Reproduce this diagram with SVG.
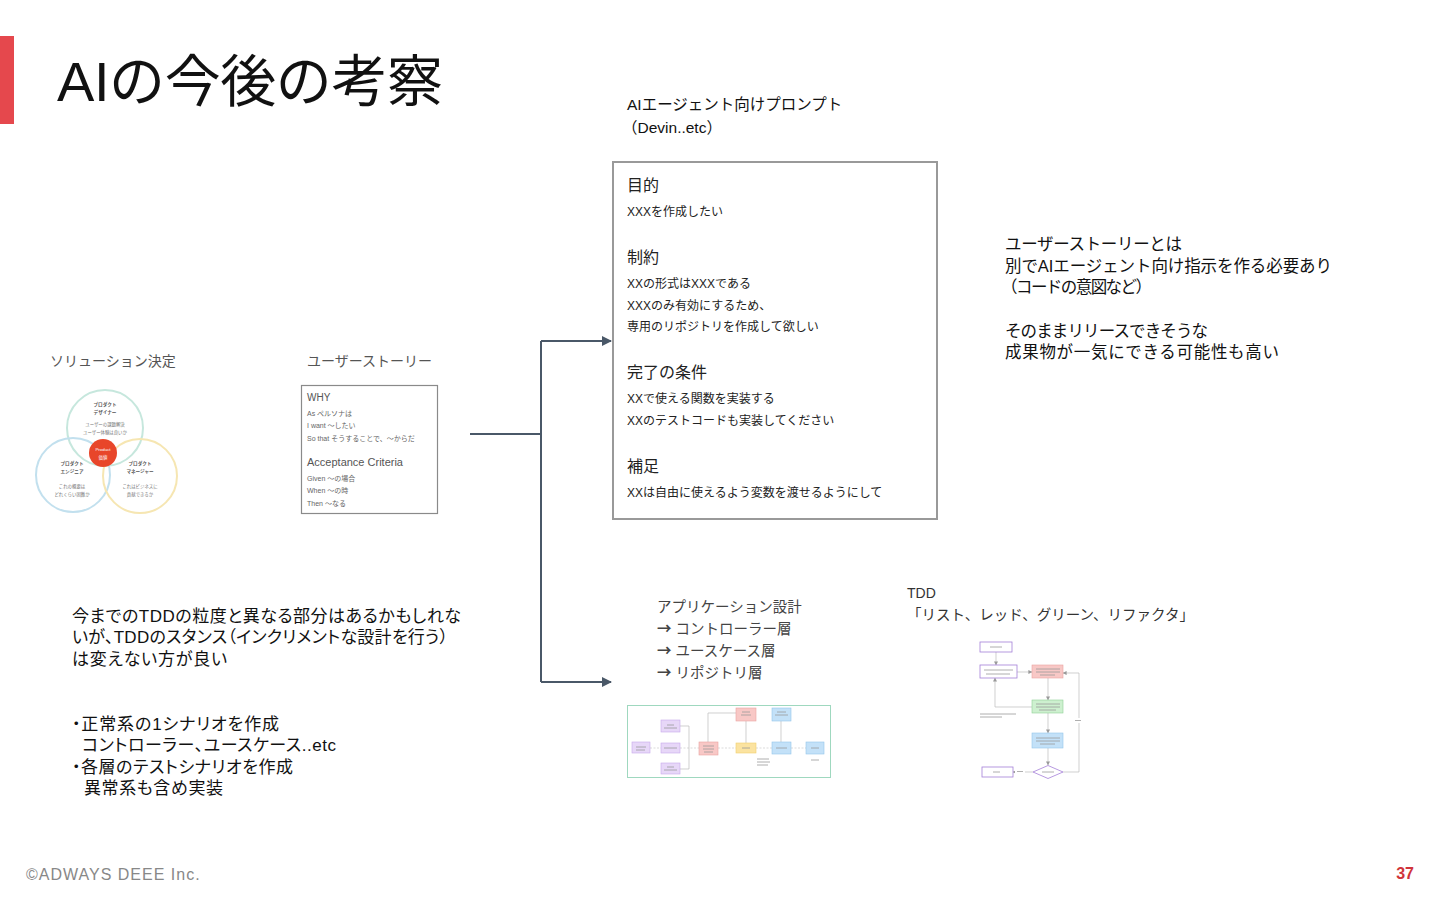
<svg xmlns="http://www.w3.org/2000/svg" width="1440" height="900" viewBox="0 0 1440 900">
<style>
text{font-family:"Liberation Sans","Noto Sans CJK JP",sans-serif;}
.t{fill:#111;}
.g{fill:#555;}
.s12{font-size:12px;fill:#222;}
.h16{font-size:16px;fill:#222;}
.b16{font-size:16.5px;fill:#111;}
.b17{font-size:17px;fill:#111;font-feature-settings:"palt";}
.ad{font-size:14.5px;fill:#444;}
.ar{font-family:"Noto Sans CJK JP",sans-serif;font-weight:bold;}
.conn{fill:none;stroke:#4a5868;stroke-width:2;}
.vn{font-size:4.6px;font-weight:bold;fill:#555;text-anchor:middle;}
.vs{font-size:4.4px;fill:#777;text-anchor:middle;}
.us{font-size:7px;fill:#666;}
.blur{stroke:#9a9a9a;stroke-width:0.8;}
.fl{fill:none;stroke:#bbb;stroke-width:0.7;}
.fd{fill:none;stroke:#ccc;stroke-width:0.7;stroke-dasharray:2 1.5;}
.pu{fill:#e7d7f8;stroke:#c7a9ec;stroke-width:0.6;}
.rd{fill:#f8c8c6;stroke:#e9a3a0;stroke-width:0.6;}
.ye{fill:#fbe3a0;stroke:#f2cf6e;stroke-width:0.6;}
.bl{fill:#c3e1f8;stroke:#95c6ea;stroke-width:0.6;}
.gr{fill:#cdf0cf;stroke:#8fd196;stroke-width:0.6;}
.pw{fill:#fff;stroke:#a47fd8;stroke-width:0.8;}
</style>
<defs>
<marker id="arr" viewBox="0 0 10 10" refX="9" refY="5" markerWidth="5" markerHeight="5" orient="auto" markerUnits="strokeWidth">
<path d="M0,0 L10,5 L0,10 z" fill="#4a5868"/>
</marker>
<marker id="sm" viewBox="0 0 10 10" refX="9" refY="5" markerWidth="4" markerHeight="4" orient="auto" markerUnits="userSpaceOnUse">
<path d="M0,0 L10,5 L0,10 z" fill="#999"/>
</marker>
</defs>
<rect width="1440" height="900" fill="#fff"/>

<g id="title">
<rect x="0" y="36" width="14" height="88" fill="#e5484d"/>
<text x="57" y="101" font-size="56" class="t" textLength="386" lengthAdjust="spacing">AIの今後の考察</text>
</g>

<g id="solution">
<text x="50" y="366" font-size="14" class="g">ソリューション決定</text>
<circle cx="105" cy="428" r="38" fill="none" stroke="#c6e7dd" stroke-width="2"/>
<circle cx="73" cy="475" r="37" fill="none" stroke="#c2e0ee" stroke-width="2"/>
<circle cx="140" cy="476" r="37" fill="none" stroke="#f6e6b2" stroke-width="2"/>
<circle cx="103" cy="453" r="14" fill="#e8462a"/>
<text x="105" y="406" class="vn">プロダクト</text>
<text x="105" y="414" class="vn">デザイナー</text>
<text x="105" y="426" class="vs">ユーザーの課題解決</text>
<text x="105" y="434" class="vs">ユーザー体験は良いか</text>
<text x="103" y="451" class="vs" style="fill:#fff">Product</text>
<text x="103" y="459" class="vs" style="fill:#fff">価値</text>
<text x="72" y="465" class="vn">プロダクト</text>
<text x="72" y="473" class="vn">エンジニア</text>
<text x="72" y="488" class="vs">これの概要は</text>
<text x="72" y="496" class="vs">どれくらい困難か</text>
<text x="140" y="465" class="vn">プロダクト</text>
<text x="140" y="473" class="vn">マネージャー</text>
<text x="140" y="488" class="vs">これはビジネスに</text>
<text x="140" y="496" class="vs">貢献できるか</text>
</g>

<g id="userstory">
<text x="307" y="366" font-size="14" class="g">ユーザーストーリー</text>
<rect x="301.5" y="385.5" width="136" height="128" fill="#fff" stroke="#8a8a8a" stroke-width="1.2"/>
<text x="307" y="401" font-size="10" fill="#555">WHY</text>
<text x="307" y="416" class="us">As ペルソナは</text>
<text x="307" y="428" class="us">I want ～したい</text>
<text x="307" y="441" class="us">So that そうすることで、～からだ</text>
<text x="307" y="466" font-size="11" fill="#555">Acceptance Criteria</text>
<text x="307" y="481" class="us">Given ～の場合</text>
<text x="307" y="493" class="us">When ～の時</text>
<text x="307" y="506" class="us">Then ～なる</text>
</g>

<g id="connectors">
<path class="conn" d="M470,434 H541"/>
<path class="conn" d="M541,341 V682"/>
<path class="conn" d="M541,341 H611" marker-end="url(#arr)"/>
<path class="conn" d="M541,682 H611" marker-end="url(#arr)"/>
</g>

<g id="prompt-title">
<text x="627" y="110" font-size="15.5" class="t">AIエージェント向けプロンプト</text>
<text x="622" y="133" font-size="15.5" class="t">（Devin..etc）</text>
</g>

<g id="prompt">
<rect x="613" y="162" width="324" height="357" fill="#fff" stroke="#999" stroke-width="2"/>
<text x="627" y="191" class="h16">目的</text>
<text x="627" y="216" class="s12">XXXを作成したい</text>
<text x="627" y="263" class="h16">制約</text>
<text x="627" y="288" class="s12">XXの形式はXXXである</text>
<text x="627" y="310" class="s12">XXXのみ有効にするため、</text>
<text x="627" y="331" class="s12">専用のリポジトリを作成して欲しい</text>
<text x="627" y="378" class="h16">完了の条件</text>
<text x="627" y="403" class="s12">XXで使える関数を実装する</text>
<text x="627" y="425" class="s12">XXのテストコードも実装してください</text>
<text x="627" y="472" class="h16">補足</text>
<text x="627" y="497" class="s12">XXは自由に使えるよう変数を渡せるようにして</text>
</g>

<g id="note-right">
<text x="1005" y="250" class="b16" textLength="177" lengthAdjust="spacing">ユーザーストーリーとは</text>
<text x="1005" y="272" class="b16" textLength="327" lengthAdjust="spacing">別でAIエージェント向け指示を作る必要あり</text>
<text x="1001" y="293" class="b16" textLength="151" lengthAdjust="spacing">（コードの意図など）</text>
<text x="1005" y="337" class="b16" textLength="203" lengthAdjust="spacing">そのままリリースできそうな</text>
<text x="1005" y="358" class="b16" textLength="274" lengthAdjust="spacing">成果物が一気にできる可能性も高い</text>
</g>

<g id="note-left">
<text x="72" y="622" class="b17" textLength="389" lengthAdjust="spacing">今までのTDDの粒度と異なる部分はあるかもしれな</text>
<text x="72" y="643" class="b17" textLength="376" lengthAdjust="spacing">いが、TDDのスタンス（インクリメントな設計を行う）</text>
<text x="72" y="665" class="b17" textLength="155" lengthAdjust="spacing">は変えない方が良い</text>
<text x="72" y="730" class="b17" textLength="207" lengthAdjust="spacing">・正常系の1シナリオを作成</text>
<text x="82" y="751" class="b17" textLength="254" lengthAdjust="spacing">コントローラー、ユースケース..etc</text>
<text x="72" y="773" class="b17" textLength="221" lengthAdjust="spacing">・各層のテストシナリオを作成</text>
<text x="84" y="794" class="b17" textLength="139" lengthAdjust="spacing">異常系も含め実装</text>
</g>

<g id="app-design">
<text x="657" y="612" class="ad">アプリケーション設計</text>
<text x="657" y="634" class="ad"><tspan class="ar">→</tspan> コントローラー層</text>
<text x="657" y="656" class="ad"><tspan class="ar">→</tspan> ユースケース層</text>
<text x="657" y="678" class="ad"><tspan class="ar">→</tspan> リポジトリ層</text>
</g>

<g id="app-flow">
<rect x="627.5" y="705.5" width="203" height="72" fill="#fff" stroke="#9fd8bf" stroke-width="1"/>
<path class="fd" d="M650,748 H661 M680,748 H699 M718,748 H736 M756,748 H772 M791,748 H806"/>
<path class="fl" d="M680,726 H689 V769 H680 M708,742 V713 H736 M746,721 V743 M781,721 V742"/>
<rect class="pu" x="632" y="742" width="18" height="11"/>
<rect class="pu" x="661" y="720" width="19" height="12"/>
<rect class="pu" x="661" y="743" width="19" height="10"/>
<rect class="pu" x="661" y="763" width="19" height="11"/>
<rect class="rd" x="699" y="742" width="19" height="13"/>
<rect class="rd" x="736" y="708" width="20" height="13"/>
<rect class="ye" x="736" y="743" width="20" height="10"/>
<rect class="bl" x="772" y="708" width="19" height="13"/>
<rect class="bl" x="772" y="742" width="19" height="12"/>
<rect class="bl" x="806" y="742" width="18" height="12"/>
<path class="blur" d="M636,747 H646 M636,750 H645 M667,725 H674 M664,728 H677 M664,748 H677 M667,767 H674 M664,770 H677 M703,746 H714 M703,749 H714 M704,752 H713 M742,712 H750 M741,715 H751 M742,748 H750 M777,712 H786 M775,715 H788 M776,748 H787 M811,748 H819 M757,759 H769 M757,762 H770 M757,765 H768 M811,760 H819"/>
</g>

<g id="tdd-title">
<text x="907" y="598" font-size="14" fill="#333">TDD</text>
<text x="907" y="620" font-size="14.5" fill="#333">「リスト、レッド、グリーン、リファクタ」</text>
</g>

<g id="tdd-flow">
<path class="fl" d="M996,652 V665" marker-end="url(#sm)"/>
<path class="fl" d="M1017,672 H1032" marker-end="url(#sm)"/>
<path class="fl" d="M1048,678 V700" marker-end="url(#sm)"/>
<path class="fl" d="M1048,713 V733" marker-end="url(#sm)"/>
<path class="fl" d="M1048,748 V765" marker-end="url(#sm)"/>
<path class="fl" d="M1033,772 H1013" marker-end="url(#sm)"/>
<path class="fl" d="M1063,772 H1079 V673 H1063" marker-end="url(#sm)"/>
<path class="fl" d="M1032,707 H995 V678" marker-end="url(#sm)"/>
<rect class="pw" x="980" y="642" width="32" height="10"/>
<rect class="pw" x="980" y="665" width="37" height="13"/>
<rect class="rd" x="1032" y="665" width="31" height="13"/>
<rect class="gr" x="1032" y="700" width="31" height="13"/>
<rect class="bl" x="1032" y="733" width="31" height="15"/>
<path d="M1033,772 L1048,765.5 L1063,772 L1048,778.5 Z" fill="#fff" stroke="#a47fd8" stroke-width="0.8"/>
<rect class="pw" x="982" y="767" width="31" height="10"/>
<rect x="1073" y="718" width="10" height="5" fill="#fff"/>
<rect x="1015" y="769" width="10" height="5" fill="#fff"/>
<path class="blur" d="M990,647 H1002 M984,670 H1013 M986,674 H1010 M1036,669 H1060 M1036,672 H1060 M1040,675 H1055 M1036,704 H1060 M1036,707 H1060 M1039,710 H1056 M1036,738 H1060 M1036,741 H1060 M1040,744 H1055 M1042,772 H1054 M993,772 H1000 M980,714 H1016 M980,717 H1002 M1075,720.5 H1081 M1017,771.5 H1023"/>
</g>

<g id="footer">
<text x="26" y="880" font-size="16" letter-spacing="1" fill="#888">©ADWAYS DEEE Inc.</text>
<text x="1414" y="879" font-size="16" font-weight="bold" fill="#d0343a" text-anchor="end">37</text>
</g>
</svg>
